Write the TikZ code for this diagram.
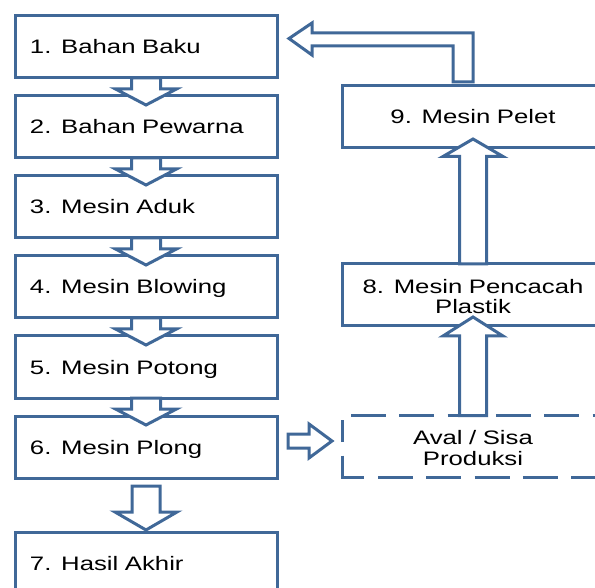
\documentclass[tikz,border=0pt]{standalone}
\usepackage{fontspec}
\setmainfont{Liberation Sans}[FakeStretch=1.32]
\usetikzlibrary{calc}
\definecolor{ln}{RGB}{64,104,152}
\begin{document}
\begin{tikzpicture}[x=1pt,y=-1pt,
  box/.style={draw=ln,line width=3pt,fill=white,minimum width=262pt,minimum height=62pt,
    inner ysep=0pt,outer sep=0pt,text height=14pt,text depth=0pt,
    font=\fontsize{19.5}{20.5}\selectfont},
  lbox/.style={box,inner xsep=15pt,text width=232pt,align=left},
  rbox/.style={box,inner xsep=10pt,text width=242pt,align=center},
  twoline/.style={text depth=17.5pt},
  dashline/.style={draw=ln,line width=3pt,line join=miter},
  barrow/.style={draw=ln,line width=3pt,fill=white,line join=miter}]
\useasboundingbox (0,0) rectangle (595,588);
\clip (0,0) rectangle (595,588);
% left column
\node[lbox] (b1) at (146,47) {1. Bahan Baku};
\node[lbox] (b2) at (146,127) {2. Bahan Pewarna};
\node[lbox] (b3) at (146,207) {3. Mesin Aduk};
\node[lbox] (b4) at (146,287) {4. Mesin Blowing};
\node[lbox] (b5) at (146,367) {5. Mesin Potong};
\node[lbox] (b6) at (146,447) {6. Mesin Plong};
\node[lbox] (b7) at (146,563) {7. Hasil Akhir};
% right column
\node[rbox] (b9) at (473,117) {9. Mesin Pelet};
\node[rbox,twoline] (b8) at (473,295) {8. Mesin Pencacah\\Plastik};
\node[rbox,twoline,draw=none] (av) at (473,446.5) {Aval / Sisa\\Produksi};
% dashed border of the waste box
\draw[dashline] ($(av.south west)+(0,-22)$) -- (av.south west) -- ++(22,0);
\draw[dashline] ($(av.south west)+(0,-35.5)$) -- ++(0,-22);
\draw[dashline,dash pattern=on 35pt off 13.3pt] ($(av.north west)+(9,0)$) -- (av.north east);
\draw[dashline,dash pattern=on 35pt off 13.3pt] ($(av.south west)+(36,0)$) -- (av.south east);
% down arrows
\foreach \a/\b in {b1/b2,b2/b3,b3/b4,b4/b5,b5/b6}
  \draw[barrow] ($(\a.south)+(-14.5,0)$) -- ++(0,11) -- ++(-16,0) -- ($(\b.north)+(0,9)$)
    -- ($(\a.south)+(30.5,11)$) -- ++(-16,0) -- ++(0,-11) -- cycle;
\draw[barrow] ($(b6.south)+(-14,8)$) -- ++(0,26) -- ++(-17,0) -- ($(b7.north)+(0,-2)$)
  -- ($(b6.south)+(31,34)$) -- ++(-17,0) -- ++(0,-26) -- cycle;
% right arrow to waste
\draw[barrow] ($(b6.east)+(11,-13)$) -- ++(21,0) -- ++(0,-10) -- ($(av.west)+(-10,-5.5)$)
  -- ($(b6.east)+(32,11)$) -- ++(0,-10) -- ++(-21,0) -- cycle;
% up arrows
\draw[barrow] ($(av.north)+(-13.5,0)$) -- ($(b8.south)+(-13.5,10)$) -- ++(-16.5,0)
  -- ($(b8.south)+(0,-9)$) -- ($(b8.south)+(30,10)$) -- ++(-16.5,0)
  -- ($(av.north)+(13.5,0)$) -- cycle;
\draw[barrow] ($(b8.north)+(-13.5,0)$) -- ($(b9.south)+(-13.5,8.5)$) -- ++(-16.5,0)
  -- ($(b9.south)+(0,-9)$) -- ($(b9.south)+(30,8.5)$) -- ++(-16.5,0)
  -- ($(b8.north)+(13.5,0)$) -- cycle;
% bent arrow back to raw material
\coordinate (t0) at ($(b9.north)+(0,-4)$);
\coordinate (tip) at ($(b1.east)+(12,-8.5)$);
\draw[barrow] (t0) -- ++(0,-49) -- ++(-161,0) -- ++(0,-10) -- (tip) -- ++(23,16.5)
  -- ++(0,-9) -- ++(141,0) -- ++(0,36) -- cycle;
\end{tikzpicture}
\end{document}
